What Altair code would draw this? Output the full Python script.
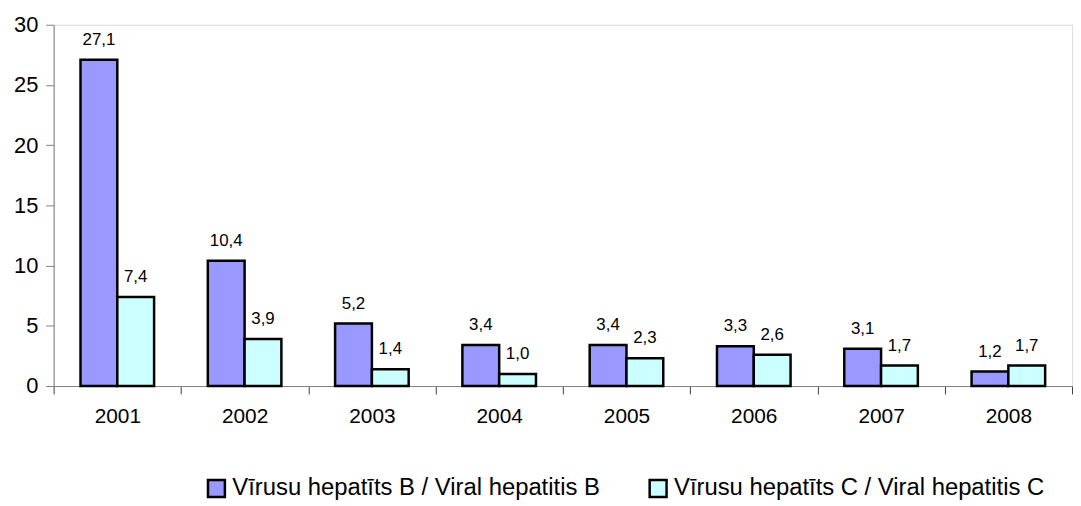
import altair as alt
import pandas as pd

years = ["2001", "2002", "2003", "2004", "2005", "2006", "2007", "2008"]
hep_b = [27.1, 10.4, 5.2, 3.4, 3.4, 3.3, 3.1, 1.2]
hep_c = [7.4, 3.9, 1.4, 1.0, 2.3, 2.6, 1.7, 1.7]
series = ["Vīrusu hepatīts B / Viral hepatitis B", "Vīrusu hepatīts C / Viral hepatitis C"]
colors = ["#9999FF", "#CCFFFF"]
y_ticks = [0, 5, 10, 15, 20, 25, 30]

rows = []
for i, y in enumerate(years):
    for s, vals in zip(series, [hep_b, hep_c]):
        v = vals[i]
        rows.append({"year": y, "series": s, "value": v,
                     "label": f"{v:.1f}".replace(".", ",")})
df = pd.DataFrame(rows)

FONT = "Liberation Sans"

x = alt.X("year:N", title=None, sort=years,
          scale=alt.Scale(paddingInner=0, paddingOuter=0),
          axis=alt.Axis(labelAngle=0, tickBand="extent", labelFontSize=21,
                        labelFont=FONT, labelColor="black", labelPadding=12,
                        domainColor="#808080", tickColor="#404040",
                        tickSize=8, ticks=True))
xo = alt.XOffset("series:N", sort=series,
                 scale=alt.Scale(paddingInner=0, paddingOuter=0.73))

base = alt.Chart(df)

bars = base.mark_bar(stroke="black", strokeWidth=2.5).encode(
    x=x,
    xOffset=xo,
    y=alt.Y("value:Q", title=None,
            scale=alt.Scale(domain=[0, 30], nice=False),
            axis=alt.Axis(values=y_ticks, grid=False, labelFontSize=22,
                          labelFont=FONT, labelColor="black", labelPadding=8,
                          domainColor="#808080", tickColor="#808080",
                          tickSize=8)),
    color=alt.Color("series:N", sort=series,
                    scale=alt.Scale(domain=series, range=colors),
                    legend=alt.Legend(title=None, orient="none",
                                      direction="horizontal",
                                      legendX=152, legendY=455,
                                      symbolType="square", symbolSize=290,
                                      symbolStrokeColor="black",
                                      symbolStrokeWidth=2.5,
                                      labelFont=FONT, labelFontSize=24,
                                      labelColor="black", columnPadding=44,
                                      labelOffset=4, labelLimit=500)),
)

labels = base.mark_text(dy=-20, fontSize=17, font=FONT, color="black").encode(
    x=alt.X("year:N", sort=years),
    xOffset=alt.XOffset("series:N", sort=series),
    y="value:Q",
    text="label:N",
)

chart = alt.layer(bars, labels).properties(
    width=1026, height=364,
    autosize=alt.AutoSizeParams(type="none"),
    padding={"left": 46, "top": 15, "right": 1, "bottom": 119},
).configure_view(stroke=None).configure(background="white")

chart.save("out.html", embed_options={"renderer": "svg", "actions": False})
